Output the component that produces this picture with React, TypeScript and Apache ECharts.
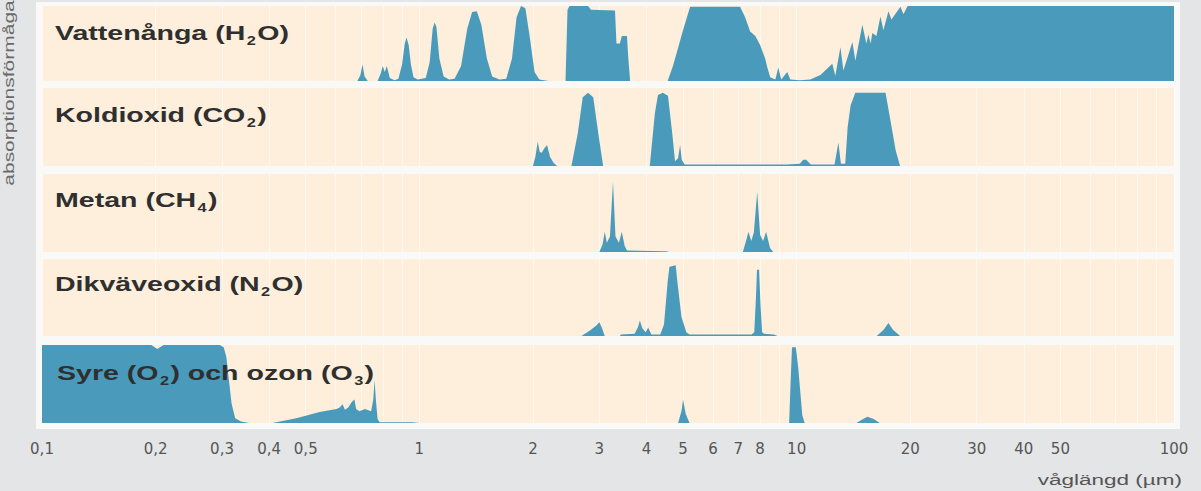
import { useEffect, useRef } from "react";
import * as echarts from "echarts";

// Wavelengths (µm) shown as tick labels on the bottom axis
const TICK_LABELS = [0.1, 0.2, 0.3, 0.4, 0.5, 1, 2, 3, 4, 5, 6, 7, 8, 10, 20, 30, 40, 50, 100];
// Faint vertical guide lines
const GUIDE_LINES = [
  0.1, 0.2, 0.3, 0.4, 0.5, 0.6, 0.7, 0.8, 0.9, 1, 2, 3, 4, 5, 6, 7, 8, 9, 10, 20, 30, 40, 50, 60, 70, 80,
  90, 100,
];

// [wavelength µm, relative absorption 0..1]
const waterVapor: [number, number][] = [
  [0.1, 0], [0.685, 0], [0.698, 0.08], [0.707, 0.22], [0.716, 0.06], [0.73, 0],
  [0.775, 0], [0.79, 0.1], [0.8, 0.2], [0.81, 0.12], [0.82, 0.2], [0.835, 0.04], [0.86, 0.01],
  [0.88, 0.03], [0.9, 0.22], [0.915, 0.5], [0.925, 0.58], [0.937, 0.48], [0.95, 0.22], [0.965, 0.05], [0.99, 0.02],
  [1.04, 0.04], [1.065, 0.25], [1.085, 0.7], [1.098, 0.78], [1.11, 0.72], [1.13, 0.3], [1.16, 0.06], [1.2, 0.02],
  [1.24, 0.03], [1.29, 0.2], [1.34, 0.7], [1.38, 0.92], [1.42, 0.93], [1.46, 0.75], [1.51, 0.3], [1.56, 0.06], [1.63, 0.02],
  [1.7, 0.03], [1.76, 0.3], [1.81, 0.85], [1.86, 1.0], [1.91, 0.97], [1.96, 0.6], [2.02, 0.12], [2.08, 0.02], [2.2, 0],
  [2.44, 0], [2.47, 0.95], [2.5, 1.0], [2.8, 1.0], [2.85, 0.95], [3.3, 0.94], [3.33, 0.5], [3.4, 0.5], [3.44, 0.6],
  [3.55, 0.6], [3.58, 0.3], [3.62, 0],
  [4.55, 0], [4.7, 0.2], [4.83, 0.41], [5.0, 0.68], [5.22, 0.99], [7.08, 0.99], [7.3, 0.85], [7.53, 0.66],
  [7.77, 0.6], [8.0, 0.48], [8.25, 0.3], [8.36, 0.18], [8.51, 0.05], [8.78, 0.02], [8.94, 0.18], [9.1, 0.02],
  [9.44, 0.12], [9.62, 0.02],
  [10.2, 0.01], [10.87, 0.02], [11.2, 0.05], [11.56, 0.08], [11.9, 0.14], [12.43, 0.23], [12.66, 0.07],
  [13.06, 0.45], [13.3, 0.14], [14.05, 0.52], [14.31, 0.27], [14.93, 0.75], [15.3, 0.5], [15.49, 0.62],
  [15.7, 0.5], [15.87, 0.64], [16.27, 0.6], [16.67, 0.86], [16.98, 0.68], [17.51, 0.93], [17.83, 0.82],
  [18.84, 0.99], [19.19, 0.89], [19.67, 1.0], [100, 1.0],
];

const carbonDioxide: [number, number][] = [
  [0.1, 0], [2.0, 0], [2.03, 0.12], [2.06, 0.31], [2.085, 0.18], [2.11, 0.17], [2.14, 0.22], [2.18, 0.27],
  [2.22, 0.12], [2.27, 0.04], [2.32, 0],
  [2.53, 0], [2.63, 0.42], [2.71, 0.88], [2.8, 0.94], [2.89, 0.88], [2.98, 0.42], [3.07, 0],
  [4.08, 0], [4.21, 0.68], [4.29, 0.91], [4.42, 0.94], [4.56, 0.9], [4.68, 0.42], [4.76, 0.06], [4.85, 0.1],
  [4.91, 0.27], [4.96, 0.08], [5.05, 0.02], [9.4, 0.02], [10.2, 0.03], [10.4, 0.08], [10.6, 0.08], [10.9, 0.02],
  [12.6, 0.02], [12.9, 0.3], [13.1, 0.03], [13.45, 0.03], [13.65, 0.5], [13.9, 0.78], [14.3, 0.94],
  [17.2, 0.94], [17.7, 0.6], [18.3, 0.2], [18.8, 0], [100, 0],
];

const methane: [number, number][] = [
  [0.1, 0], [3.0, 0], [3.06, 0.1], [3.1, 0.26], [3.14, 0.12], [3.2, 0.2], [3.26, 0.9], [3.31, 0.2],
  [3.38, 0.12], [3.44, 0.26], [3.5, 0.08], [3.55, 0.02], [4.5, 0.01], [4.6, 0],
  [7.2, 0], [7.35, 0.15], [7.45, 0.26], [7.58, 0.14], [7.7, 0.25], [7.86, 0.77], [8.0, 0.22], [8.15, 0.14],
  [8.3, 0.26], [8.5, 0.05], [8.67, 0], [100, 0],
];

const nitrousOxide: [number, number][] = [
  [0.1, 0], [2.69, 0], [2.85, 0.08], [2.95, 0.14], [3.0, 0.18], [3.05, 0.1], [3.1, 0],
  [3.4, 0], [3.42, 0.02], [3.72, 0.03], [3.8, 0.12], [3.84, 0.2], [3.9, 0.1], [3.98, 0.05], [4.04, 0.11],
  [4.12, 0.02], [4.35, 0.02], [4.45, 0.15], [4.55, 0.7], [4.6, 0.9], [4.78, 0.92], [4.83, 0.7], [4.95, 0.25],
  [5.1, 0.05], [5.2, 0.02], [7.6, 0.02], [7.72, 0.05], [7.8, 0.5], [7.85, 0.86], [7.95, 0.86], [8.02, 0.4],
  [8.1, 0.05], [8.2, 0.03], [8.7, 0.02], [8.9, 0],
  [16.3, 0], [17.0, 0.08], [17.5, 0.17], [18.0, 0.08], [18.8, 0], [100, 0],
];

const oxygenOzone: [number, number][] = [
  [0.1, 1], [0.195, 1], [0.202, 0.95], [0.21, 1], [0.296, 1], [0.303, 0.97], [0.308, 0.85], [0.312, 0.6],
  [0.318, 0.25], [0.325, 0.06], [0.337, 0.02], [0.354, 0],
  [0.408, 0], [0.472, 0.06], [0.544, 0.14], [0.603, 0.18], [0.615, 0.2], [0.626, 0.24], [0.635, 0.17],
  [0.648, 0.2], [0.662, 0.27], [0.673, 0.3], [0.68, 0.18], [0.694, 0.15], [0.717, 0.18], [0.745, 0.15],
  [0.755, 0.3], [0.761, 0.55], [0.767, 0.3], [0.775, 0.05], [0.785, 0.01], [0.96, 0.01], [1.0, 0],
  [4.85, 0], [4.95, 0.15], [5.0, 0.3], [5.08, 0.12], [5.2, 0],
  [9.55, 0], [9.65, 0.6], [9.72, 0.97], [9.95, 0.97], [10.1, 0.7], [10.35, 0.1], [10.5, 0],
  [14.4, 0], [15.0, 0.05], [15.4, 0.08], [16.0, 0.05], [16.6, 0], [100, 0],
];

const panelLabels = [
  "Vattenånga (H{s|2}O)",
  "Koldioxid (CO{s|2})",
  "Metan (CH{s|4})",
  "Dikväveoxid (N{s|2}O)",
  "Syre (O{s|2}) och ozon (O{s|3})",
];
const panelData = [waterVapor, carbonDioxide, methane, nitrousOxide, oxygenOzone];

const yAxisName = "absorptionsförmåga";
const xAxisName = "våglängd (µm)";

// layout
const PANEL_TOPS = [6, 88, 174, 259, 345];
const PANEL_HEIGHTS = [75, 78, 78, 77, 78];
const LABEL_Y = [32, 114, 199, 283, 372];
const TEAL = "#4a9bbb";
const BEIGE = "#fdefdc";
const FONT = "'Liberation Sans', Arial, Helvetica, sans-serif";

const lg = (v: number) => Math.max(-1, Math.min(2, Math.log10(v)));

export default function App() {
  const ref = useRef<HTMLDivElement>(null);
  useEffect(() => {
    if (!ref.current) return;
    const chart = echarts.init(ref.current, null, { renderer: "svg" });
    const n = panelData.length;
    const grids = PANEL_TOPS.map((top, i) => ({
      left: 42,
      right: 27,
      top,
      height: PANEL_HEIGHTS[i],
      show: true,
      backgroundColor: BEIGE,
      borderWidth: 0,
      containLabel: false,
    }));
    const xAxes = PANEL_TOPS.map((_, i) => ({
      type: "value",
      gridIndex: i,
      min: -1,
      max: 2,
      axisLine: { show: false },
      axisTick: { show: false, customValues: GUIDE_LINES.map(lg) },
      splitLine: { show: true, lineStyle: { color: "rgba(255,255,255,0.55)", width: 1 } },
      axisLabel: {
        show: i === n - 1,
        customValues: TICK_LABELS.map(lg),
        formatter: (v: number) => String(Number(Math.pow(10, v).toPrecision(2))).replace(".", ","),
        color: "#555",
        fontSize: 15,
        fontFamily: "'DejaVu Sans', sans-serif",
        margin: 18,
      },
    }));
    const yAxes = PANEL_TOPS.map((_, i) => ({
      type: "value",
      gridIndex: i,
      min: 0,
      max: 1,
      show: false,
      splitLine: { show: false },
    }));
    const series = panelData.map((d, i) => ({
      type: "line",
      xAxisIndex: i,
      yAxisIndex: i,
      data: d.map(([w, v]) => [lg(w), v]),
      symbol: "none",
      showSymbol: false,
      silent: true,
      lineStyle: { color: TEAL, width: 0, opacity: 0 },
      areaStyle: { color: TEAL, opacity: 1 },
    }));
    const subStyle = {
      fontSize: 12,
      fontWeight: "bold",
      fontFamily: FONT,
      fill: "#2f2f2f",
      verticalAlign: "bottom",
      padding: [17, 1, 0, 1],
    };
    const labels = panelLabels.map((t, i) => ({
      type: "text",
      x: i === 4 ? 57 : 55,
      y: LABEL_Y[i],
      scaleX: 1.36,
      z: 100,
      silent: true,
      style: {
        text: t,
        fontSize: 21,
        fontWeight: "bold",
        fontFamily: FONT,
        fill: "#2f2f2f",
        align: "left",
        verticalAlign: "middle",
        rich: { s: subStyle },
      },
    }));
    chart.setOption({
      animation: false,
      backgroundColor: "#e4e5e7",
      grid: grids,
      xAxis: xAxes,
      yAxis: yAxes,
      series,
      graphic: [
        {
          type: "rect",
          z: -100,
          silent: true,
          shape: { x: 36, y: 2, width: 1144, height: 427 },
          style: { fill: "#f9f9f8" },
        },
        ...labels,
        {
          type: "text",
          x: 9,
          y: 93,
          rotation: Math.PI / 2,
          scaleX: 1.5,
          silent: true,
          style: {
            text: yAxisName,
            fontSize: 14,
            fontFamily: FONT,
            fill: "#6a6a6a",
            align: "center",
            verticalAlign: "middle",
          },
        },
        {
          type: "text",
          x: 1182,
          y: 480,
          scaleX: 1.5,
          silent: true,
          style: {
            text: xAxisName,
            fontSize: 15,
            fontFamily: FONT,
            fill: "#555",
            align: "right",
            verticalAlign: "middle",
          },
        },
      ],
    });
    return () => chart.dispose();
  }, []);
  return (
    <div style={{ position: "fixed", left: 0, top: 0, width: 1201, height: 491, background: "#e4e5e7" }}>
      <div ref={ref} style={{ width: 1201, height: 491 }} />
    </div>
  );
}
